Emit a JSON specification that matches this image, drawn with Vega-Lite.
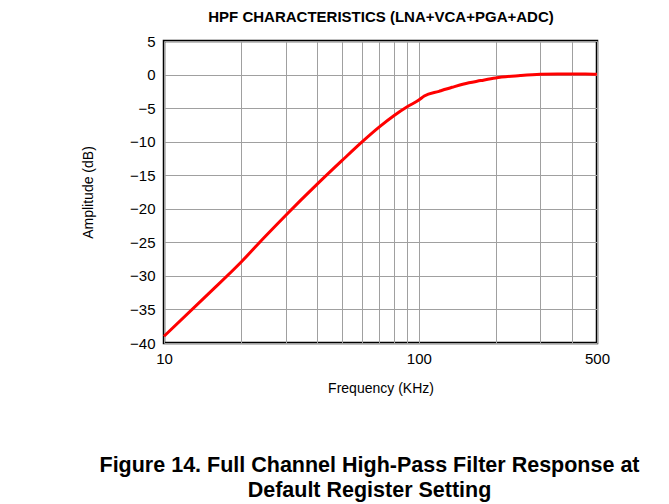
{
  "$schema": "https://vega.github.io/schema/vega-lite/v6.json",
  "autosize": "none",
  "width": 433,
  "height": 302,
  "padding": {"left": 164, "top": 41, "right": 72, "bottom": 161},
  "background": "white",
  "config": {
    "font": "Liberation Sans",
    "view": {"stroke": "black", "strokeWidth": 2.5}
  },
  "title": {
    "text": ["Figure 14. Full Channel High-Pass Filter Response at", "Default Register Setting"],
    "orient": "bottom",
    "anchor": "middle",
    "frame": "group",
    "dx": -11,
    "offset": 60,
    "fontSize": 21.5,
    "fontWeight": "bold",
    "font": "Liberation Sans",
    "color": "black",
    "lineHeight": 25
  },
  "data": {
    "values": [
      {"f": 10, "dB": -39.0},
      {"f": 15, "dB": -32.6},
      {"f": 20, "dB": -28.0},
      {"f": 25, "dB": -24.1},
      {"f": 30, "dB": -21.0},
      {"f": 40, "dB": -16.3},
      {"f": 50, "dB": -12.8},
      {"f": 60, "dB": -10.0},
      {"f": 70, "dB": -7.8},
      {"f": 80, "dB": -6.1},
      {"f": 90, "dB": -4.8},
      {"f": 100, "dB": -3.8},
      {"f": 105, "dB": -3.2},
      {"f": 120, "dB": -2.5},
      {"f": 135, "dB": -1.9},
      {"f": 150, "dB": -1.4},
      {"f": 175, "dB": -0.9},
      {"f": 200, "dB": -0.5},
      {"f": 250, "dB": -0.15},
      {"f": 300, "dB": 0.05},
      {"f": 350, "dB": 0.1},
      {"f": 400, "dB": 0.1},
      {"f": 450, "dB": 0.08},
      {"f": 500, "dB": 0.03}
    ]
  },
  "layer": [
    {
      "mark": {"type": "line", "color": "#ff0000", "strokeWidth": 3, "interpolate": "monotone"},
      "encoding": {
        "x": {
          "field": "f",
          "type": "quantitative",
          "scale": {"type": "log", "domain": [10, 500], "nice": false},
          "axis": {
            "values": [10, 20, 30, 40, 50, 60, 70, 80, 90, 100, 200, 300, 400, 500],
            "format": "d",
            "labelExpr": "(datum.value == 10 || datum.value == 100 || datum.value == 500) ? datum.label : ''",
            "title": "Frequency (KHz)",
            "titleFontWeight": "normal",
            "titleFontSize": 14,
            "titleColor": "black",
            "titlePadding": 15,
            "labelFontSize": 15,
            "labelColor": "black",
            "labelPadding": 8,
            "ticks": false,
            "domain": false,
            "grid": true,
            "gridColor": "#a0a0a0",
            "gridWidth": 1,
            "gridOpacity": 1,
            "labelFlush": false,
            "labelOverlap": false
          }
        },
        "y": {
          "field": "dB",
          "type": "quantitative",
          "scale": {"domain": [-40, 5], "nice": false, "zero": false},
          "axis": {
            "values": [-40, -35, -30, -25, -20, -15, -10, -5, 0, 5],
            "title": "Amplitude (dB)",
            "titleFontWeight": "normal",
            "titleFontSize": 14,
            "titleColor": "black",
            "titlePadding": 34,
            "labelFontSize": 15,
            "labelColor": "black",
            "labelPadding": 9,
            "ticks": false,
            "domain": false,
            "grid": true,
            "gridColor": "#a0a0a0",
            "gridWidth": 1,
            "gridOpacity": 1,
            "labelFlush": false,
            "labelOverlap": false
          }
        }
      }
    },
    {
      "mark": {"type": "rule", "opacity": 0},
      "encoding": {
        "x": {
          "field": "f",
          "type": "quantitative",
          "scale": {"type": "log", "domain": [10, 500], "nice": false},
          "axis": {
            "orient": "top",
            "title": "HPF CHARACTERISTICS (LNA+VCA+PGA+ADC)",
            "titleFontWeight": "bold",
            "titleFontSize": 15,
            "titleColor": "black",
            "titlePadding": 17,
            "labels": false,
            "ticks": false,
            "domain": false,
            "grid": false
          }
        }
      }
    }
  ],
  "resolve": {"axis": {"x": "independent"}}
}
